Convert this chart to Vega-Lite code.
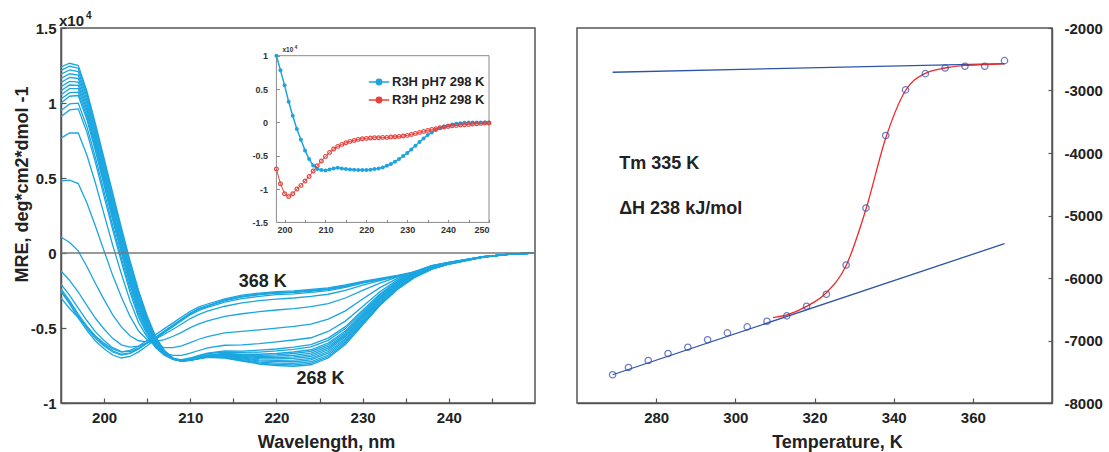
{
"$schema": "https://vega.github.io/schema/vega-lite/v6.json",
"background": "white",
"padding": {"left": 12, "top": 10, "right": 0, "bottom": 0},
"spacing": 42,
"bounds": "flush",
"config": {
  "font": "Liberation Sans",
  "view": {"stroke": "#555555", "strokeWidth": 1.5},
  "axis": {"labelFont": "Liberation Sans", "labelFontWeight": "bold", "labelFontSize": 15, "labelColor": "#222222", "titleFont": "Liberation Sans", "titleFontWeight": "bold", "titleFontSize": 18, "titleColor": "#222222", "domainColor": "#555555", "domainWidth": 1.5, "tickColor": "#555555", "tickWidth": 1.2, "grid": false},
  "legend": {"labelFont": "Liberation Sans"}
},
"datasets": {
"cd": [
{"w":195,"T":268,"v":1.24},{"w":196,"T":268,"v":1.265},{"w":197,"T":268,"v":1.25},{"w":198,"T":268,"v":1.08},{"w":199,"T":268,"v":0.86},{"w":200,"T":268,"v":0.63},{"w":201,"T":268,"v":0.40},{"w":202,"T":268,"v":0.17},{"w":203,"T":268,"v":-0.05},{"w":204,"T":268,"v":-0.25},{"w":205,"T":268,"v":-0.42},{"w":206,"T":268,"v":-0.56},{"w":207,"T":268,"v":-0.65},{"w":208,"T":268,"v":-0.70},{"w":209,"T":268,"v":-0.72},{"w":210,"T":268,"v":-0.715},{"w":211,"T":268,"v":-0.705},{"w":212,"T":268,"v":-0.695},{"w":214,"T":268,"v":-0.70},{"w":216,"T":268,"v":-0.72},{"w":218,"T":268,"v":-0.74},{"w":220,"T":268,"v":-0.75},{"w":222,"T":268,"v":-0.755},{"w":224,"T":268,"v":-0.745},{"w":226,"T":268,"v":-0.70},{"w":228,"T":268,"v":-0.61},{"w":230,"T":268,"v":-0.48},{"w":232,"T":268,"v":-0.35},{"w":234,"T":268,"v":-0.245},{"w":236,"T":268,"v":-0.165},{"w":238,"T":268,"v":-0.11},{"w":240,"T":268,"v":-0.075},{"w":244,"T":268,"v":-0.028},{"w":247,"T":268,"v":-0.009},{"w":250,"T":268,"v":0},
{"w":195,"T":273,"v":1.218},{"w":196,"T":273,"v":1.245},{"w":197,"T":273,"v":1.232},{"w":198,"T":273,"v":1.063},{"w":199,"T":273,"v":0.844},{"w":200,"T":273,"v":0.614},{"w":201,"T":273,"v":0.384},{"w":202,"T":273,"v":0.155},{"w":203,"T":273,"v":-0.064},{"w":204,"T":273,"v":-0.263},{"w":205,"T":273,"v":-0.429},{"w":206,"T":273,"v":-0.565},{"w":207,"T":273,"v":-0.653},{"w":208,"T":273,"v":-0.701},{"w":209,"T":273,"v":-0.72},{"w":210,"T":273,"v":-0.715},{"w":211,"T":273,"v":-0.704},{"w":212,"T":273,"v":-0.694},{"w":214,"T":273,"v":-0.697},{"w":216,"T":273,"v":-0.716},{"w":218,"T":273,"v":-0.734},{"w":220,"T":273,"v":-0.743},{"w":222,"T":273,"v":-0.746},{"w":224,"T":273,"v":-0.736},{"w":226,"T":273,"v":-0.691},{"w":228,"T":273,"v":-0.602},{"w":230,"T":273,"v":-0.473},{"w":232,"T":273,"v":-0.345},{"w":234,"T":273,"v":-0.241},{"w":236,"T":273,"v":-0.162},{"w":238,"T":273,"v":-0.108},{"w":240,"T":273,"v":-0.074},{"w":244,"T":273,"v":-0.028},{"w":247,"T":273,"v":-0.009},{"w":250,"T":273,"v":0},
{"w":195,"T":278,"v":1.192},{"w":196,"T":278,"v":1.221},{"w":197,"T":278,"v":1.21},{"w":198,"T":278,"v":1.042},{"w":199,"T":278,"v":0.824},{"w":200,"T":278,"v":0.594},{"w":201,"T":278,"v":0.364},{"w":202,"T":278,"v":0.136},{"w":203,"T":278,"v":-0.082},{"w":204,"T":278,"v":-0.278},{"w":205,"T":278,"v":-0.44},{"w":206,"T":278,"v":-0.572},{"w":207,"T":278,"v":-0.656},{"w":208,"T":278,"v":-0.702},{"w":209,"T":278,"v":-0.72},{"w":210,"T":278,"v":-0.714},{"w":211,"T":278,"v":-0.703},{"w":212,"T":278,"v":-0.692},{"w":214,"T":278,"v":-0.694},{"w":216,"T":278,"v":-0.711},{"w":218,"T":278,"v":-0.727},{"w":220,"T":278,"v":-0.734},{"w":222,"T":278,"v":-0.736},{"w":224,"T":278,"v":-0.725},{"w":226,"T":278,"v":-0.68},{"w":228,"T":278,"v":-0.592},{"w":230,"T":278,"v":-0.465},{"w":232,"T":278,"v":-0.338},{"w":234,"T":278,"v":-0.236},{"w":236,"T":278,"v":-0.159},{"w":238,"T":278,"v":-0.106},{"w":240,"T":278,"v":-0.073},{"w":244,"T":278,"v":-0.027},{"w":247,"T":278,"v":-0.009},{"w":250,"T":278,"v":0},
{"w":195,"T":283,"v":1.163},{"w":196,"T":283,"v":1.195},{"w":197,"T":283,"v":1.186},{"w":198,"T":283,"v":1.019},{"w":199,"T":283,"v":0.802},{"w":200,"T":283,"v":0.572},{"w":201,"T":283,"v":0.342},{"w":202,"T":283,"v":0.116},{"w":203,"T":283,"v":-0.101},{"w":204,"T":283,"v":-0.295},{"w":205,"T":283,"v":-0.452},{"w":206,"T":283,"v":-0.579},{"w":207,"T":283,"v":-0.66},{"w":208,"T":283,"v":-0.703},{"w":209,"T":283,"v":-0.72},{"w":210,"T":283,"v":-0.713},{"w":211,"T":283,"v":-0.702},{"w":212,"T":283,"v":-0.69},{"w":214,"T":283,"v":-0.69},{"w":216,"T":283,"v":-0.706},{"w":218,"T":283,"v":-0.719},{"w":220,"T":283,"v":-0.724},{"w":222,"T":283,"v":-0.725},{"w":224,"T":283,"v":-0.713},{"w":226,"T":283,"v":-0.668},{"w":228,"T":283,"v":-0.581},{"w":230,"T":283,"v":-0.456},{"w":232,"T":283,"v":-0.331},{"w":234,"T":283,"v":-0.231},{"w":236,"T":283,"v":-0.155},{"w":238,"T":283,"v":-0.104},{"w":240,"T":283,"v":-0.072},{"w":244,"T":283,"v":-0.027},{"w":247,"T":283,"v":-0.009},{"w":250,"T":283,"v":0},
{"w":195,"T":288,"v":1.137},{"w":196,"T":288,"v":1.17},{"w":197,"T":288,"v":1.164},{"w":198,"T":288,"v":0.998},{"w":199,"T":288,"v":0.783},{"w":200,"T":288,"v":0.553},{"w":201,"T":288,"v":0.323},{"w":202,"T":288,"v":0.097},{"w":203,"T":288,"v":-0.119},{"w":204,"T":288,"v":-0.31},{"w":205,"T":288,"v":-0.463},{"w":206,"T":288,"v":-0.586},{"w":207,"T":288,"v":-0.663},{"w":208,"T":288,"v":-0.704},{"w":209,"T":288,"v":-0.72},{"w":210,"T":288,"v":-0.713},{"w":211,"T":288,"v":-0.701},{"w":212,"T":288,"v":-0.689},{"w":214,"T":288,"v":-0.687},{"w":216,"T":288,"v":-0.701},{"w":218,"T":288,"v":-0.712},{"w":220,"T":288,"v":-0.716},{"w":222,"T":288,"v":-0.714},{"w":224,"T":288,"v":-0.702},{"w":226,"T":288,"v":-0.657},{"w":228,"T":288,"v":-0.571},{"w":230,"T":288,"v":-0.448},{"w":232,"T":288,"v":-0.324},{"w":234,"T":288,"v":-0.226},{"w":236,"T":288,"v":-0.152},{"w":238,"T":288,"v":-0.101},{"w":240,"T":288,"v":-0.071},{"w":244,"T":288,"v":-0.026},{"w":247,"T":288,"v":-0.009},{"w":250,"T":288,"v":0},
{"w":195,"T":293,"v":1.108},{"w":196,"T":293,"v":1.144},{"w":197,"T":293,"v":1.14},{"w":198,"T":293,"v":0.976},{"w":199,"T":293,"v":0.761},{"w":200,"T":293,"v":0.531},{"w":201,"T":293,"v":0.301},{"w":202,"T":293,"v":0.077},{"w":203,"T":293,"v":-0.138},{"w":204,"T":293,"v":-0.327},{"w":205,"T":293,"v":-0.475},{"w":206,"T":293,"v":-0.593},{"w":207,"T":293,"v":-0.667},{"w":208,"T":293,"v":-0.706},{"w":209,"T":293,"v":-0.72},{"w":210,"T":293,"v":-0.712},{"w":211,"T":293,"v":-0.70},{"w":212,"T":293,"v":-0.687},{"w":214,"T":293,"v":-0.684},{"w":216,"T":293,"v":-0.695},{"w":218,"T":293,"v":-0.704},{"w":220,"T":293,"v":-0.706},{"w":222,"T":293,"v":-0.703},{"w":224,"T":293,"v":-0.69},{"w":226,"T":293,"v":-0.645},{"w":228,"T":293,"v":-0.56},{"w":230,"T":293,"v":-0.439},{"w":232,"T":293,"v":-0.317},{"w":234,"T":293,"v":-0.22},{"w":236,"T":293,"v":-0.149},{"w":238,"T":293,"v":-0.099},{"w":240,"T":293,"v":-0.07},{"w":244,"T":293,"v":-0.026},{"w":247,"T":293,"v":-0.008},{"w":250,"T":293,"v":0},
{"w":195,"T":298,"v":1.082},{"w":196,"T":298,"v":1.12},{"w":197,"T":298,"v":1.118},{"w":198,"T":298,"v":0.955},{"w":199,"T":298,"v":0.741},{"w":200,"T":298,"v":0.511},{"w":201,"T":298,"v":0.281},{"w":202,"T":298,"v":0.058},{"w":203,"T":298,"v":-0.156},{"w":204,"T":298,"v":-0.342},{"w":205,"T":298,"v":-0.486},{"w":206,"T":298,"v":-0.60},{"w":207,"T":298,"v":-0.67},{"w":208,"T":298,"v":-0.707},{"w":209,"T":298,"v":-0.72},{"w":210,"T":298,"v":-0.712},{"w":211,"T":298,"v":-0.698},{"w":212,"T":298,"v":-0.685},{"w":214,"T":298,"v":-0.68},{"w":216,"T":298,"v":-0.69},{"w":218,"T":298,"v":-0.697},{"w":220,"T":298,"v":-0.697},{"w":222,"T":298,"v":-0.692},{"w":224,"T":298,"v":-0.679},{"w":226,"T":298,"v":-0.634},{"w":228,"T":298,"v":-0.551},{"w":230,"T":298,"v":-0.431},{"w":232,"T":298,"v":-0.31},{"w":234,"T":298,"v":-0.215},{"w":236,"T":298,"v":-0.145},{"w":238,"T":298,"v":-0.097},{"w":240,"T":298,"v":-0.068},{"w":244,"T":298,"v":-0.026},{"w":247,"T":298,"v":-0.008},{"w":250,"T":298,"v":0},
{"w":195,"T":303,"v":1.055},{"w":196,"T":303,"v":1.096},{"w":197,"T":303,"v":1.096},{"w":198,"T":303,"v":0.934},{"w":199,"T":303,"v":0.721},{"w":200,"T":303,"v":0.491},{"w":201,"T":303,"v":0.261},{"w":202,"T":303,"v":0.039},{"w":203,"T":303,"v":-0.173},{"w":204,"T":303,"v":-0.358},{"w":205,"T":303,"v":-0.497},{"w":206,"T":303,"v":-0.606},{"w":207,"T":303,"v":-0.673},{"w":208,"T":303,"v":-0.708},{"w":209,"T":303,"v":-0.72},{"w":210,"T":303,"v":-0.711},{"w":211,"T":303,"v":-0.697},{"w":212,"T":303,"v":-0.683},{"w":214,"T":303,"v":-0.677},{"w":216,"T":303,"v":-0.685},{"w":218,"T":303,"v":-0.69},{"w":220,"T":303,"v":-0.688},{"w":222,"T":303,"v":-0.682},{"w":224,"T":303,"v":-0.668},{"w":226,"T":303,"v":-0.623},{"w":228,"T":303,"v":-0.541},{"w":230,"T":303,"v":-0.422},{"w":232,"T":303,"v":-0.304},{"w":234,"T":303,"v":-0.21},{"w":236,"T":303,"v":-0.142},{"w":238,"T":303,"v":-0.095},{"w":240,"T":303,"v":-0.067},{"w":244,"T":303,"v":-0.025},{"w":247,"T":303,"v":-0.008},{"w":250,"T":303,"v":0},
{"w":195,"T":308,"v":1.026},{"w":196,"T":308,"v":1.069},{"w":197,"T":308,"v":1.072},{"w":198,"T":308,"v":0.911},{"w":199,"T":308,"v":0.70},{"w":200,"T":308,"v":0.47},{"w":201,"T":308,"v":0.24},{"w":202,"T":308,"v":0.019},{"w":203,"T":308,"v":-0.192},{"w":204,"T":308,"v":-0.375},{"w":205,"T":308,"v":-0.509},{"w":206,"T":308,"v":-0.613},{"w":207,"T":308,"v":-0.677},{"w":208,"T":308,"v":-0.709},{"w":209,"T":308,"v":-0.72},{"w":210,"T":308,"v":-0.711},{"w":211,"T":308,"v":-0.696},{"w":212,"T":308,"v":-0.682},{"w":214,"T":308,"v":-0.673},{"w":216,"T":308,"v":-0.68},{"w":218,"T":308,"v":-0.682},{"w":220,"T":308,"v":-0.679},{"w":222,"T":308,"v":-0.67},{"w":224,"T":308,"v":-0.656},{"w":226,"T":308,"v":-0.611},{"w":228,"T":308,"v":-0.53},{"w":230,"T":308,"v":-0.413},{"w":232,"T":308,"v":-0.297},{"w":234,"T":308,"v":-0.205},{"w":236,"T":308,"v":-0.138},{"w":238,"T":308,"v":-0.092},{"w":240,"T":308,"v":-0.066},{"w":244,"T":308,"v":-0.025},{"w":247,"T":308,"v":-0.008},{"w":250,"T":308,"v":0},
{"w":195,"T":313,"v":1.0},{"w":196,"T":313,"v":1.045},{"w":197,"T":313,"v":1.05},{"w":198,"T":313,"v":0.89},{"w":199,"T":313,"v":0.68},{"w":200,"T":313,"v":0.45},{"w":201,"T":313,"v":0.22},{"w":202,"T":313,"v":0.0},{"w":203,"T":313,"v":-0.21},{"w":204,"T":313,"v":-0.39},{"w":205,"T":313,"v":-0.52},{"w":206,"T":313,"v":-0.62},{"w":207,"T":313,"v":-0.68},{"w":208,"T":313,"v":-0.71},{"w":209,"T":313,"v":-0.72},{"w":210,"T":313,"v":-0.71},{"w":211,"T":313,"v":-0.695},{"w":212,"T":313,"v":-0.68},{"w":214,"T":313,"v":-0.67},{"w":216,"T":313,"v":-0.675},{"w":218,"T":313,"v":-0.675},{"w":220,"T":313,"v":-0.67},{"w":222,"T":313,"v":-0.66},{"w":224,"T":313,"v":-0.645},{"w":226,"T":313,"v":-0.60},{"w":228,"T":313,"v":-0.52},{"w":230,"T":313,"v":-0.405},{"w":232,"T":313,"v":-0.29},{"w":234,"T":313,"v":-0.20},{"w":236,"T":313,"v":-0.135},{"w":238,"T":313,"v":-0.09},{"w":240,"T":313,"v":-0.065},{"w":244,"T":313,"v":-0.025},{"w":247,"T":313,"v":-0.008},{"w":250,"T":313,"v":0},
{"w":195,"T":318,"v":0.95},{"w":196,"T":318,"v":0.994},{"w":197,"T":318,"v":0.999},{"w":198,"T":318,"v":0.842},{"w":199,"T":318,"v":0.636},{"w":200,"T":318,"v":0.409},{"w":201,"T":318,"v":0.183},{"w":202,"T":318,"v":-0.033},{"w":203,"T":318,"v":-0.236},{"w":204,"T":318,"v":-0.41},{"w":205,"T":318,"v":-0.532},{"w":206,"T":318,"v":-0.625},{"w":207,"T":318,"v":-0.679},{"w":208,"T":318,"v":-0.707},{"w":209,"T":318,"v":-0.715},{"w":210,"T":318,"v":-0.703},{"w":211,"T":318,"v":-0.687},{"w":212,"T":318,"v":-0.671},{"w":214,"T":318,"v":-0.66},{"w":216,"T":318,"v":-0.663},{"w":218,"T":318,"v":-0.661},{"w":220,"T":318,"v":-0.653},{"w":222,"T":318,"v":-0.642},{"w":224,"T":318,"v":-0.626},{"w":226,"T":318,"v":-0.582},{"w":228,"T":318,"v":-0.504},{"w":230,"T":318,"v":-0.393},{"w":232,"T":318,"v":-0.281},{"w":234,"T":318,"v":-0.194},{"w":236,"T":318,"v":-0.132},{"w":238,"T":318,"v":-0.088},{"w":240,"T":318,"v":-0.064},{"w":244,"T":318,"v":-0.025},{"w":247,"T":318,"v":-0.008},{"w":250,"T":318,"v":0},
{"w":195,"T":323,"v":0.909},{"w":196,"T":323,"v":0.954},{"w":197,"T":323,"v":0.961},{"w":198,"T":323,"v":0.806},{"w":199,"T":323,"v":0.603},{"w":200,"T":323,"v":0.378},{"w":201,"T":323,"v":0.154},{"w":202,"T":323,"v":-0.058},{"w":203,"T":323,"v":-0.26},{"w":204,"T":323,"v":-0.428},{"w":205,"T":323,"v":-0.545},{"w":206,"T":323,"v":-0.632},{"w":207,"T":323,"v":-0.682},{"w":208,"T":323,"v":-0.705},{"w":209,"T":323,"v":-0.711},{"w":210,"T":323,"v":-0.70},{"w":211,"T":323,"v":-0.683},{"w":212,"T":323,"v":-0.668},{"w":214,"T":323,"v":-0.652},{"w":216,"T":323,"v":-0.654},{"w":218,"T":323,"v":-0.648},{"w":220,"T":323,"v":-0.64},{"w":222,"T":323,"v":-0.627},{"w":224,"T":323,"v":-0.611},{"w":226,"T":323,"v":-0.567},{"w":228,"T":323,"v":-0.491},{"w":230,"T":323,"v":-0.382},{"w":232,"T":323,"v":-0.273},{"w":234,"T":323,"v":-0.189},{"w":236,"T":323,"v":-0.128},{"w":238,"T":323,"v":-0.085},{"w":240,"T":323,"v":-0.063},{"w":244,"T":323,"v":-0.025},{"w":247,"T":323,"v":-0.008},{"w":250,"T":323,"v":0},
{"w":195,"T":328,"v":0.766},{"w":196,"T":328,"v":0.801},{"w":197,"T":328,"v":0.80},{"w":198,"T":328,"v":0.653},{"w":199,"T":328,"v":0.465},{"w":200,"T":328,"v":0.257},{"w":201,"T":328,"v":0.052},{"w":202,"T":328,"v":-0.138},{"w":203,"T":328,"v":-0.317},{"w":204,"T":328,"v":-0.464},{"w":205,"T":328,"v":-0.56},{"w":206,"T":328,"v":-0.63},{"w":207,"T":328,"v":-0.668},{"w":208,"T":328,"v":-0.682},{"w":209,"T":328,"v":-0.683},{"w":210,"T":328,"v":-0.668},{"w":211,"T":328,"v":-0.65},{"w":212,"T":328,"v":-0.633},{"w":214,"T":328,"v":-0.615},{"w":216,"T":328,"v":-0.612},{"w":218,"T":328,"v":-0.604},{"w":220,"T":328,"v":-0.593},{"w":222,"T":328,"v":-0.58},{"w":224,"T":328,"v":-0.565},{"w":226,"T":328,"v":-0.523},{"w":228,"T":328,"v":-0.454},{"w":230,"T":328,"v":-0.356},{"w":232,"T":328,"v":-0.258},{"w":234,"T":328,"v":-0.181},{"w":236,"T":328,"v":-0.126},{"w":238,"T":328,"v":-0.085},{"w":240,"T":328,"v":-0.063},{"w":244,"T":328,"v":-0.025},{"w":247,"T":328,"v":-0.008},{"w":250,"T":328,"v":0},
{"w":195,"T":333,"v":0.481},{"w":196,"T":333,"v":0.486},{"w":197,"T":333,"v":0.463},{"w":198,"T":333,"v":0.335},{"w":199,"T":333,"v":0.178},{"w":200,"T":333,"v":0.013},{"w":201,"T":333,"v":-0.149},{"w":202,"T":333,"v":-0.294},{"w":203,"T":333,"v":-0.421},{"w":204,"T":333,"v":-0.52},{"w":205,"T":333,"v":-0.578},{"w":206,"T":333,"v":-0.616},{"w":207,"T":333,"v":-0.631},{"w":208,"T":333,"v":-0.631},{"w":209,"T":333,"v":-0.619},{"w":210,"T":333,"v":-0.597},{"w":211,"T":333,"v":-0.575},{"w":212,"T":333,"v":-0.557},{"w":214,"T":333,"v":-0.533},{"w":216,"T":333,"v":-0.523},{"w":218,"T":333,"v":-0.512},{"w":220,"T":333,"v":-0.501},{"w":222,"T":333,"v":-0.489},{"w":224,"T":333,"v":-0.474},{"w":226,"T":333,"v":-0.441},{"w":228,"T":333,"v":-0.386},{"w":230,"T":333,"v":-0.307},{"w":232,"T":333,"v":-0.231},{"w":234,"T":333,"v":-0.171},{"w":236,"T":333,"v":-0.124},{"w":238,"T":333,"v":-0.088},{"w":240,"T":333,"v":-0.063},{"w":244,"T":333,"v":-0.025},{"w":247,"T":333,"v":-0.008},{"w":250,"T":333,"v":0},
{"w":195,"T":338,"v":0.106},{"w":196,"T":338,"v":0.07},{"w":197,"T":338,"v":0.014},{"w":198,"T":338,"v":-0.09},{"w":199,"T":338,"v":-0.203},{"w":200,"T":338,"v":-0.311},{"w":201,"T":338,"v":-0.412},{"w":202,"T":338,"v":-0.493},{"w":203,"T":338,"v":-0.552},{"w":204,"T":338,"v":-0.585},{"w":205,"T":338,"v":-0.593},{"w":206,"T":338,"v":-0.59},{"w":207,"T":338,"v":-0.577},{"w":208,"T":338,"v":-0.555},{"w":209,"T":338,"v":-0.529},{"w":210,"T":338,"v":-0.498},{"w":211,"T":338,"v":-0.472},{"w":212,"T":338,"v":-0.453},{"w":214,"T":338,"v":-0.423},{"w":216,"T":338,"v":-0.405},{"w":218,"T":338,"v":-0.391},{"w":220,"T":338,"v":-0.38},{"w":222,"T":338,"v":-0.371},{"w":224,"T":338,"v":-0.358},{"w":226,"T":338,"v":-0.337},{"w":228,"T":338,"v":-0.30},{"w":230,"T":338,"v":-0.249},{"w":232,"T":338,"v":-0.201},{"w":234,"T":338,"v":-0.161},{"w":236,"T":338,"v":-0.126},{"w":238,"T":338,"v":-0.093},{"w":240,"T":338,"v":-0.067},{"w":244,"T":338,"v":-0.026},{"w":247,"T":338,"v":-0.008},{"w":250,"T":338,"v":0},
{"w":195,"T":343,"v":-0.12},{"w":196,"T":343,"v":-0.183},{"w":197,"T":343,"v":-0.26},{"w":198,"T":343,"v":-0.349},{"w":199,"T":343,"v":-0.435},{"w":200,"T":343,"v":-0.507},{"w":201,"T":343,"v":-0.569},{"w":202,"T":343,"v":-0.612},{"w":203,"T":343,"v":-0.628},{"w":204,"T":343,"v":-0.621},{"w":205,"T":343,"v":-0.599},{"w":206,"T":343,"v":-0.572},{"w":207,"T":343,"v":-0.542},{"w":208,"T":343,"v":-0.508},{"w":209,"T":343,"v":-0.473},{"w":210,"T":343,"v":-0.437},{"w":211,"T":343,"v":-0.409},{"w":212,"T":343,"v":-0.388},{"w":214,"T":343,"v":-0.355},{"w":216,"T":343,"v":-0.332},{"w":218,"T":343,"v":-0.318},{"w":220,"T":343,"v":-0.307},{"w":222,"T":343,"v":-0.30},{"w":224,"T":343,"v":-0.289},{"w":226,"T":343,"v":-0.275},{"w":228,"T":343,"v":-0.249},{"w":230,"T":343,"v":-0.214},{"w":232,"T":343,"v":-0.184},{"w":234,"T":343,"v":-0.156},{"w":236,"T":343,"v":-0.128},{"w":238,"T":343,"v":-0.097},{"w":240,"T":343,"v":-0.069},{"w":244,"T":343,"v":-0.026},{"w":247,"T":343,"v":-0.008},{"w":250,"T":343,"v":0},
{"w":195,"T":348,"v":-0.208},{"w":196,"T":348,"v":-0.282},{"w":197,"T":348,"v":-0.367},{"w":198,"T":348,"v":-0.45},{"w":199,"T":348,"v":-0.526},{"w":200,"T":348,"v":-0.583},{"w":201,"T":348,"v":-0.631},{"w":202,"T":348,"v":-0.658},{"w":203,"T":348,"v":-0.657},{"w":204,"T":348,"v":-0.634},{"w":205,"T":348,"v":-0.60},{"w":206,"T":348,"v":-0.565},{"w":207,"T":348,"v":-0.527},{"w":208,"T":348,"v":-0.49},{"w":209,"T":348,"v":-0.451},{"w":210,"T":348,"v":-0.412},{"w":211,"T":348,"v":-0.382},{"w":212,"T":348,"v":-0.363},{"w":214,"T":348,"v":-0.328},{"w":216,"T":348,"v":-0.304},{"w":218,"T":348,"v":-0.289},{"w":220,"T":348,"v":-0.278},{"w":222,"T":348,"v":-0.273},{"w":224,"T":348,"v":-0.263},{"w":226,"T":348,"v":-0.251},{"w":228,"T":348,"v":-0.229},{"w":230,"T":348,"v":-0.201},{"w":232,"T":348,"v":-0.178},{"w":234,"T":348,"v":-0.156},{"w":236,"T":348,"v":-0.129},{"w":238,"T":348,"v":-0.099},{"w":240,"T":348,"v":-0.069},{"w":244,"T":348,"v":-0.026},{"w":247,"T":348,"v":-0.008},{"w":250,"T":348,"v":0},
{"w":195,"T":353,"v":-0.24},{"w":196,"T":353,"v":-0.318},{"w":197,"T":353,"v":-0.407},{"w":198,"T":353,"v":-0.488},{"w":199,"T":353,"v":-0.559},{"w":200,"T":353,"v":-0.611},{"w":201,"T":353,"v":-0.652},{"w":202,"T":353,"v":-0.675},{"w":203,"T":353,"v":-0.667},{"w":204,"T":353,"v":-0.639},{"w":205,"T":353,"v":-0.60},{"w":206,"T":353,"v":-0.561},{"w":207,"T":353,"v":-0.522},{"w":208,"T":353,"v":-0.482},{"w":209,"T":353,"v":-0.443},{"w":210,"T":353,"v":-0.403},{"w":211,"T":353,"v":-0.373},{"w":212,"T":353,"v":-0.354},{"w":214,"T":353,"v":-0.318},{"w":216,"T":353,"v":-0.293},{"w":218,"T":353,"v":-0.278},{"w":220,"T":353,"v":-0.268},{"w":222,"T":353,"v":-0.263},{"w":224,"T":353,"v":-0.254},{"w":226,"T":353,"v":-0.243},{"w":228,"T":353,"v":-0.222},{"w":230,"T":353,"v":-0.196},{"w":232,"T":353,"v":-0.175},{"w":234,"T":353,"v":-0.155},{"w":236,"T":353,"v":-0.13},{"w":238,"T":353,"v":-0.10},{"w":240,"T":353,"v":-0.07},{"w":244,"T":353,"v":-0.027},{"w":247,"T":353,"v":-0.008},{"w":250,"T":353,"v":0},
{"w":195,"T":358,"v":-0.25},{"w":196,"T":358,"v":-0.33},{"w":197,"T":358,"v":-0.42},{"w":198,"T":358,"v":-0.50},{"w":199,"T":358,"v":-0.57},{"w":200,"T":358,"v":-0.62},{"w":201,"T":358,"v":-0.66},{"w":202,"T":358,"v":-0.68},{"w":203,"T":358,"v":-0.67},{"w":204,"T":358,"v":-0.64},{"w":205,"T":358,"v":-0.60},{"w":206,"T":358,"v":-0.56},{"w":207,"T":358,"v":-0.52},{"w":208,"T":358,"v":-0.48},{"w":209,"T":358,"v":-0.44},{"w":210,"T":358,"v":-0.40},{"w":211,"T":358,"v":-0.37},{"w":212,"T":358,"v":-0.35},{"w":214,"T":358,"v":-0.315},{"w":216,"T":358,"v":-0.29},{"w":218,"T":358,"v":-0.275},{"w":220,"T":358,"v":-0.265},{"w":222,"T":358,"v":-0.26},{"w":224,"T":358,"v":-0.25},{"w":226,"T":358,"v":-0.24},{"w":228,"T":358,"v":-0.22},{"w":230,"T":358,"v":-0.195},{"w":232,"T":358,"v":-0.175},{"w":234,"T":358,"v":-0.155},{"w":236,"T":358,"v":-0.13},{"w":238,"T":358,"v":-0.10},{"w":240,"T":358,"v":-0.07},{"w":244,"T":358,"v":-0.027},{"w":247,"T":358,"v":-0.008},{"w":250,"T":358,"v":0},
{"w":195,"T":363,"v":-0.258},{"w":196,"T":363,"v":-0.34},{"w":197,"T":363,"v":-0.433},{"w":198,"T":363,"v":-0.515},{"w":199,"T":363,"v":-0.587},{"w":200,"T":363,"v":-0.639},{"w":201,"T":363,"v":-0.68},{"w":202,"T":363,"v":-0.70},{"w":203,"T":363,"v":-0.69},{"w":204,"T":363,"v":-0.659},{"w":205,"T":363,"v":-0.618},{"w":206,"T":363,"v":-0.571},{"w":207,"T":363,"v":-0.53},{"w":208,"T":363,"v":-0.49},{"w":209,"T":363,"v":-0.444},{"w":210,"T":363,"v":-0.404},{"w":211,"T":363,"v":-0.374},{"w":212,"T":363,"v":-0.354},{"w":214,"T":363,"v":-0.315},{"w":216,"T":363,"v":-0.29},{"w":218,"T":363,"v":-0.275},{"w":220,"T":363,"v":-0.265},{"w":222,"T":363,"v":-0.261},{"w":224,"T":363,"v":-0.25},{"w":226,"T":363,"v":-0.24},{"w":228,"T":363,"v":-0.22},{"w":230,"T":363,"v":-0.195},{"w":232,"T":363,"v":-0.175},{"w":234,"T":363,"v":-0.155},{"w":236,"T":363,"v":-0.13},{"w":238,"T":363,"v":-0.10},{"w":240,"T":363,"v":-0.07},{"w":244,"T":363,"v":-0.027},{"w":247,"T":363,"v":-0.008},{"w":250,"T":363,"v":0},
{"w":195,"T":368,"v":-0.30},{"w":196,"T":368,"v":-0.37},{"w":197,"T":368,"v":-0.43},{"w":198,"T":368,"v":-0.49},{"w":199,"T":368,"v":-0.553},{"w":200,"T":368,"v":-0.601},{"w":201,"T":368,"v":-0.64},{"w":202,"T":368,"v":-0.66},{"w":203,"T":368,"v":-0.65},{"w":204,"T":368,"v":-0.621},{"w":205,"T":368,"v":-0.582},{"w":206,"T":368,"v":-0.543},{"w":207,"T":368,"v":-0.504},{"w":208,"T":368,"v":-0.466},{"w":209,"T":368,"v":-0.427},{"w":210,"T":368,"v":-0.388},{"w":211,"T":368,"v":-0.359},{"w":212,"T":368,"v":-0.34},{"w":214,"T":368,"v":-0.306},{"w":216,"T":368,"v":-0.281},{"w":218,"T":368,"v":-0.267},{"w":220,"T":368,"v":-0.257},{"w":222,"T":368,"v":-0.252},{"w":224,"T":368,"v":-0.243},{"w":226,"T":368,"v":-0.233},{"w":228,"T":368,"v":-0.213},{"w":230,"T":368,"v":-0.189},{"w":232,"T":368,"v":-0.17},{"w":234,"T":368,"v":-0.15},{"w":236,"T":368,"v":-0.126},{"w":238,"T":368,"v":-0.097},{"w":240,"T":368,"v":-0.068},{"w":244,"T":368,"v":-0.026},{"w":247,"T":368,"v":-0.008},{"w":250,"T":368,"v":0}
],
"ph7": [
{"w":198,"s":"R3H pH7 298 K","v":1.0},{"w":199,"s":"R3H pH7 298 K","v":0.78},{"w":200,"s":"R3H pH7 298 K","v":0.555},{"w":201,"s":"R3H pH7 298 K","v":0.31},{"w":202,"s":"R3H pH7 298 K","v":0.10},{"w":203,"s":"R3H pH7 298 K","v":-0.10},{"w":204,"s":"R3H pH7 298 K","v":-0.26},{"w":205,"s":"R3H pH7 298 K","v":-0.42},{"w":206,"s":"R3H pH7 298 K","v":-0.55},{"w":207,"s":"R3H pH7 298 K","v":-0.645},{"w":208,"s":"R3H pH7 298 K","v":-0.70},{"w":209,"s":"R3H pH7 298 K","v":-0.715},{"w":210,"s":"R3H pH7 298 K","v":-0.72},{"w":211,"s":"R3H pH7 298 K","v":-0.705},{"w":212,"s":"R3H pH7 298 K","v":-0.69},{"w":213,"s":"R3H pH7 298 K","v":-0.68},{"w":214,"s":"R3H pH7 298 K","v":-0.69},{"w":215,"s":"R3H pH7 298 K","v":-0.70},{"w":216,"s":"R3H pH7 298 K","v":-0.705},{"w":217,"s":"R3H pH7 298 K","v":-0.71},{"w":218,"s":"R3H pH7 298 K","v":-0.715},{"w":219,"s":"R3H pH7 298 K","v":-0.715},{"w":220,"s":"R3H pH7 298 K","v":-0.715},{"w":221,"s":"R3H pH7 298 K","v":-0.71},{"w":222,"s":"R3H pH7 298 K","v":-0.70},{"w":223,"s":"R3H pH7 298 K","v":-0.69},{"w":224,"s":"R3H pH7 298 K","v":-0.675},{"w":225,"s":"R3H pH7 298 K","v":-0.65},{"w":226,"s":"R3H pH7 298 K","v":-0.625},{"w":227,"s":"R3H pH7 298 K","v":-0.59},{"w":228,"s":"R3H pH7 298 K","v":-0.55},{"w":229,"s":"R3H pH7 298 K","v":-0.505},{"w":230,"s":"R3H pH7 298 K","v":-0.46},{"w":231,"s":"R3H pH7 298 K","v":-0.405},{"w":232,"s":"R3H pH7 298 K","v":-0.35},{"w":233,"s":"R3H pH7 298 K","v":-0.295},{"w":234,"s":"R3H pH7 298 K","v":-0.24},{"w":235,"s":"R3H pH7 298 K","v":-0.19},{"w":236,"s":"R3H pH7 298 K","v":-0.15},{"w":237,"s":"R3H pH7 298 K","v":-0.115},{"w":238,"s":"R3H pH7 298 K","v":-0.085},{"w":239,"s":"R3H pH7 298 K","v":-0.06},{"w":240,"s":"R3H pH7 298 K","v":-0.045},{"w":241,"s":"R3H pH7 298 K","v":-0.03},{"w":242,"s":"R3H pH7 298 K","v":-0.02},{"w":243,"s":"R3H pH7 298 K","v":-0.012},{"w":244,"s":"R3H pH7 298 K","v":-0.006},{"w":245,"s":"R3H pH7 298 K","v":-0.002},{"w":246,"s":"R3H pH7 298 K","v":0},{"w":247,"s":"R3H pH7 298 K","v":0},{"w":248,"s":"R3H pH7 298 K","v":0},{"w":249,"s":"R3H pH7 298 K","v":0},{"w":250,"s":"R3H pH7 298 K","v":0}
],
"ph2": [
{"w":198,"s":"R3H pH2 298 K","v":-0.70},{"w":199,"s":"R3H pH2 298 K","v":-0.92},{"w":200,"s":"R3H pH2 298 K","v":-1.07},{"w":201,"s":"R3H pH2 298 K","v":-1.11},{"w":202,"s":"R3H pH2 298 K","v":-1.07},{"w":203,"s":"R3H pH2 298 K","v":-1.00},{"w":204,"s":"R3H pH2 298 K","v":-0.945},{"w":205,"s":"R3H pH2 298 K","v":-0.88},{"w":206,"s":"R3H pH2 298 K","v":-0.81},{"w":207,"s":"R3H pH2 298 K","v":-0.73},{"w":208,"s":"R3H pH2 298 K","v":-0.65},{"w":209,"s":"R3H pH2 298 K","v":-0.58},{"w":210,"s":"R3H pH2 298 K","v":-0.51},{"w":211,"s":"R3H pH2 298 K","v":-0.45},{"w":212,"s":"R3H pH2 298 K","v":-0.40},{"w":213,"s":"R3H pH2 298 K","v":-0.36},{"w":214,"s":"R3H pH2 298 K","v":-0.33},{"w":215,"s":"R3H pH2 298 K","v":-0.305},{"w":216,"s":"R3H pH2 298 K","v":-0.285},{"w":217,"s":"R3H pH2 298 K","v":-0.27},{"w":218,"s":"R3H pH2 298 K","v":-0.255},{"w":219,"s":"R3H pH2 298 K","v":-0.245},{"w":220,"s":"R3H pH2 298 K","v":-0.24},{"w":221,"s":"R3H pH2 298 K","v":-0.235},{"w":222,"s":"R3H pH2 298 K","v":-0.23},{"w":223,"s":"R3H pH2 298 K","v":-0.23},{"w":224,"s":"R3H pH2 298 K","v":-0.225},{"w":225,"s":"R3H pH2 298 K","v":-0.225},{"w":226,"s":"R3H pH2 298 K","v":-0.22},{"w":227,"s":"R3H pH2 298 K","v":-0.215},{"w":228,"s":"R3H pH2 298 K","v":-0.21},{"w":229,"s":"R3H pH2 298 K","v":-0.205},{"w":230,"s":"R3H pH2 298 K","v":-0.195},{"w":231,"s":"R3H pH2 298 K","v":-0.18},{"w":232,"s":"R3H pH2 298 K","v":-0.165},{"w":233,"s":"R3H pH2 298 K","v":-0.15},{"w":234,"s":"R3H pH2 298 K","v":-0.135},{"w":235,"s":"R3H pH2 298 K","v":-0.12},{"w":236,"s":"R3H pH2 298 K","v":-0.105},{"w":237,"s":"R3H pH2 298 K","v":-0.095},{"w":238,"s":"R3H pH2 298 K","v":-0.08},{"w":239,"s":"R3H pH2 298 K","v":-0.07},{"w":240,"s":"R3H pH2 298 K","v":-0.06},{"w":241,"s":"R3H pH2 298 K","v":-0.05},{"w":242,"s":"R3H pH2 298 K","v":-0.045},{"w":243,"s":"R3H pH2 298 K","v":-0.04},{"w":244,"s":"R3H pH2 298 K","v":-0.035},{"w":245,"s":"R3H pH2 298 K","v":-0.03},{"w":246,"s":"R3H pH2 298 K","v":-0.025},{"w":247,"s":"R3H pH2 298 K","v":-0.02},{"w":248,"s":"R3H pH2 298 K","v":-0.015},{"w":249,"s":"R3H pH2 298 K","v":-0.01},{"w":250,"s":"R3H pH2 298 K","v":-0.01}
],
"melt": [
{"T":269,"mre":-7548},{"T":273,"mre":-7431},{"T":278,"mre":-7320},{"T":283,"mre":-7208},{"T":288,"mre":-7107},{"T":293,"mre":-6989},{"T":298,"mre":-6878},{"T":303,"mre":-6782},{"T":308,"mre":-6691},{"T":313,"mre":-6606},{"T":318,"mre":-6452},{"T":323,"mre":-6260},{"T":328,"mre":-5791},{"T":333,"mre":-4881},{"T":338,"mre":-3720},{"T":343,"mre":-2990},{"T":348,"mre":-2730},{"T":353,"mre":-2639},{"T":358,"mre":-2612},{"T":363,"mre":-2612},{"T":368,"mre":-2522}
],
"fit": [
{"T":309.5,"fit":-6635},{"T":313,"fit":-6590},{"T":318,"fit":-6455},{"T":323,"fit":-6235},{"T":328,"fit":-5800},{"T":333,"fit":-4900},{"T":338,"fit":-3760},{"T":343,"fit":-3000},{"T":348,"fit":-2725},{"T":353,"fit":-2640},{"T":358,"fit":-2598},{"T":363,"fit":-2585},{"T":368,"fit":-2575}
],
"base": [
{"T":269,"b":-2708,"g":"unfolded"},{"T":368,"b":-2570,"g":"unfolded"},{"T":269,"b":-7548,"g":"folded"},{"T":368,"b":-5450,"g":"folded"}
]
},
"hconcat": [
{
  "width": 474,
  "height": 375,
  "layer": [
    {
      "layer": [
        {
          "data": {"name": "cd"},
          "mark": {"type": "line", "color": "#1ba6e0", "strokeWidth": 1.3, "clip": true},
          "encoding": {
            "x": {"field": "w", "type": "quantitative", "scale": {"domain": [195, 250], "nice": false, "zero": false},
                  "axis": {"title": "Wavelength, nm", "values": [200, 205, 210, 215, 220, 225, 230, 235, 240, 245], "labelExpr": "datum.value % 10 === 0 ? datum.label : ''", "tickSize": -5, "labelPadding": 12, "titleX": 265, "titleY": 44, "titleBaseline": "alphabetic"}},
            "y": {"field": "v", "type": "quantitative", "scale": {"domain": [-1, 1.5], "nice": false, "zero": false},
                  "axis": {"title": "MRE, deg*cm2*dmol -1", "values": [-1, -0.5, 0, 0.5, 1, 1.5], "labelExpr": "toString(datum.value)", "tickSize": -5, "labelPadding": 10, "titleX": -34, "titleY": 156, "titleBaseline": "alphabetic"}},
            "detail": {"field": "T", "type": "nominal"}
          }
        },
        {
          "data": {"values": [{}]},
          "mark": {"type": "rule", "color": "#777777", "strokeWidth": 1.5},
          "encoding": {"y": {"datum": 0, "type": "quantitative"}}
        },
        {
          "data": {"values": [{}]},
          "mark": {"type": "text", "text": "368 K", "fontSize": 18, "fontWeight": "bold", "color": "#222222", "align": "center", "baseline": "middle"},
          "encoding": {"x": {"datum": 218.4, "type": "quantitative"}, "y": {"datum": -0.19, "type": "quantitative"}}
        },
        {
          "data": {"values": [{}]},
          "mark": {"type": "text", "text": "268 K", "fontSize": 18, "fontWeight": "bold", "color": "#222222", "align": "center", "baseline": "middle"},
          "encoding": {"x": {"datum": 225.1, "type": "quantitative"}, "y": {"datum": -0.837, "type": "quantitative"}}
        },
        {
          "data": {"values": [{}]},
          "mark": {"type": "text", "text": "x10", "fontSize": 15, "fontWeight": "bold", "color": "#222222", "align": "left", "baseline": "alphabetic", "dx": -2, "dy": -2},
          "encoding": {"x": {"datum": 195, "type": "quantitative"}, "y": {"datum": 1.5, "type": "quantitative"}}
        },
        {
          "data": {"values": [{}]},
          "mark": {"type": "text", "text": "4", "fontSize": 10, "fontWeight": "bold", "color": "#222222", "align": "left", "baseline": "alphabetic", "dx": 25, "dy": -9},
          "encoding": {"x": {"datum": 195, "type": "quantitative"}, "y": {"datum": 1.5, "type": "quantitative"}}
        }
      ]
    },
    {
      "layer": [
        {
          "data": {"values": [{}]},
          "mark": {"type": "rect", "filled": false, "stroke": "#8a8a8a", "strokeWidth": 1},
          "encoding": {
            "x": {"datum": 198, "type": "quantitative", "scale": {"domain": [198, 250], "range": [215.4, 428], "nice": false, "zero": false}},
            "x2": {"datum": 250},
            "y": {"datum": -1.5, "type": "quantitative", "scale": {"domain": [-1.5, 1], "range": [194.4, 27.7], "nice": false, "zero": false}},
            "y2": {"datum": 1}
          }
        },
        {
          "data": {"name": "ph7"},
          "mark": {"type": "line", "strokeWidth": 1.5, "point": {"filled": true, "size": 16}},
          "encoding": {
            "x": {"field": "w", "type": "quantitative",
                  "axis": {"orient": "bottom", "offset": -180.6, "title": null, "domain": false, "values": [200, 205, 210, 215, 220, 225, 230, 235, 240, 245, 250], "labelExpr": "datum.value % 10 === 0 ? datum.label : ''", "tickSize": -3, "tickWidth": 1, "tickColor": "#888888", "labelPadding": 6, "labelFontSize": 9, "labelColor": "#333333"}},
            "y": {"field": "v", "type": "quantitative",
                  "axis": {"orient": "left", "offset": -215.4, "title": null, "domain": false, "values": [-1.5, -1, -0.5, 0, 0.5, 1], "labelExpr": "toString(datum.value)", "tickSize": -3, "tickWidth": 1, "tickColor": "#888888", "labelPadding": 12, "labelFontSize": 9, "labelColor": "#333333"}},
            "color": {"field": "s", "type": "nominal", "scale": {"domain": ["R3H pH7 298 K", "R3H pH2 298 K"], "range": ["#1fa3df", "#e8413c"]},
                      "legend": {"title": null, "orient": "none", "legendX": 311, "legendY": 47, "padding": 0, "symbolType": "M-1.7,0H1.7M-0.45,0A0.45,0.45 0 1,1 0.45,0A0.45,0.45 0 1,1 -0.45,0", "symbolSize": 144, "symbolStrokeWidth": 1.5, "labelFontSize": 13, "labelFontWeight": "bold", "labelColor": "#222222", "labelOffset": 6, "rowPadding": 4,
                                 "encode": {"symbols": {"update": {"fill": {"signal": "datum.value === 'R3H pH7 298 K' ? '#1fa3df' : '#f9d0cf'"}}}}}}
          }
        },
        {
          "data": {"name": "ph2"},
          "mark": {"type": "line", "strokeWidth": 1, "point": {"filled": false, "size": 14, "strokeWidth": 1.2}},
          "encoding": {
            "x": {"field": "w", "type": "quantitative"},
            "y": {"field": "v", "type": "quantitative"},
            "color": {"field": "s", "type": "nominal"}
          }
        },
        {
          "data": {"values": [{}]},
          "mark": {"type": "text", "text": "x10", "fontSize": 6.5, "fontWeight": "bold", "color": "#333333", "align": "left", "baseline": "alphabetic", "dx": 6, "dy": -4},
          "encoding": {"x": {"datum": 198, "type": "quantitative"}, "y": {"datum": 1, "type": "quantitative"}}
        },
        {
          "data": {"values": [{}]},
          "mark": {"type": "text", "text": "4", "fontSize": 5, "fontWeight": "bold", "color": "#333333", "align": "left", "baseline": "alphabetic", "dx": 18, "dy": -7},
          "encoding": {"x": {"datum": 198, "type": "quantitative"}, "y": {"datum": 1, "type": "quantitative"}}
        }
      ]
    }
  ],
  "resolve": {"scale": {"x": "independent", "y": "independent"}}
},
{
  "width": 475,
  "height": 375,
  "layer": [
    {
      "data": {"name": "base"},
      "mark": {"type": "line", "color": "#2c55a8", "strokeWidth": 1.3},
      "encoding": {
        "x": {"field": "T", "type": "quantitative", "scale": {"domain": [260, 380], "nice": false, "zero": false},
              "axis": {"title": "Temperature, K", "values": [280, 300, 320, 340, 360], "tickSize": -5, "labelPadding": 12, "titleX": 260, "titleY": 44, "titleBaseline": "alphabetic"}},
        "y": {"field": "b", "type": "quantitative", "scale": {"domain": [-8000, -2000], "nice": false, "zero": false},
              "axis": {"title": null, "orient": "right", "values": [-8000, -7000, -6000, -5000, -4000, -3000, -2000], "labelExpr": "toString(datum.value)", "tickSize": -4, "labelPadding": 16}},
        "detail": {"field": "g", "type": "nominal"}
      }
    },
    {
      "data": {"name": "fit"},
      "mark": {"type": "line", "color": "#ee2b2b", "strokeWidth": 1.3, "interpolate": "monotone"},
      "encoding": {
        "x": {"field": "T", "type": "quantitative"},
        "y": {"field": "fit", "type": "quantitative"}
      }
    },
    {
      "data": {"name": "melt"},
      "mark": {"type": "point", "shape": "circle", "filled": false, "color": "#3448a8", "size": 40, "strokeWidth": 1.3},
      "encoding": {
        "x": {"field": "T", "type": "quantitative"},
        "y": {"field": "mre", "type": "quantitative"}
      }
    },
    {
      "data": {"values": [{}]},
      "mark": {"type": "text", "text": "Tm 335 K", "fontSize": 18, "fontWeight": "bold", "color": "#222222", "align": "left", "baseline": "middle"},
      "encoding": {"x": {"datum": 270.65, "type": "quantitative"}, "y": {"datum": -4173, "type": "quantitative"}}
    },
    {
      "data": {"values": [{}]},
      "mark": {"type": "text", "text": "ΔH 238 kJ/mol", "fontSize": 18, "fontWeight": "bold", "color": "#222222", "align": "left", "baseline": "middle"},
      "encoding": {"x": {"datum": 270.65, "type": "quantitative"}, "y": {"datum": -4893, "type": "quantitative"}}
    }
  ]
}
]
}
